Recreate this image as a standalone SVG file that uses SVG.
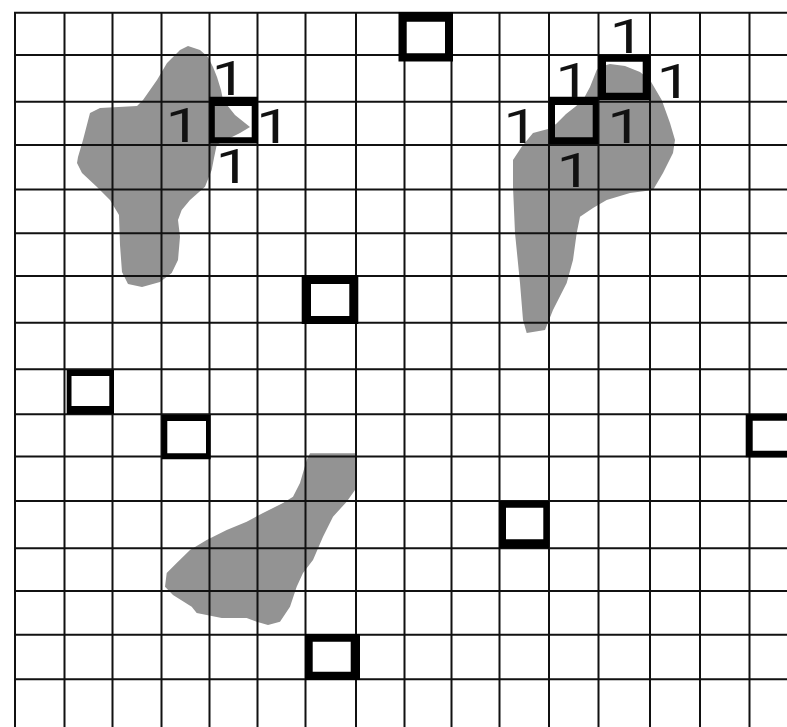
<svg xmlns="http://www.w3.org/2000/svg" width="787" height="727" viewBox="0 0 787 727">
<style>
.blob{fill:#939393;stroke:none}
.grid line{stroke:#111;stroke-width:2}
.box{fill:#000;fill-rule:evenodd}
.lbl{font-family:Roboto,"Liberation Sans",Arial,sans-serif;font-size:48px;fill:#111;text-anchor:middle}
</style>
<rect width="787" height="727" fill="#fff"/>
<g id="blobs">
<path id="blob-top-left" class="blob" d="M188,46 L200,50 L208,57 L213,67 L217,77 L221,90 L223,100 L235,115 L250,127 L240,133 L230,138 L220,143 L216.7,145 L214,158 L211.7,170 L205,186.7 L190,200 L181.7,210 L178,220 L180,236.7 L178,260 L171.7,273 L160,282 L142,287 L128,284 L122,272 L120,245 L119,215 L110,200 L97,187 L82,173 L77,163 L78,157 L83,140 L90,113 L100,108 L137,106 L143,100 L157,80 L167,63 L180,50 Z"/>
<path id="blob-top-right" class="blob" d="M600,66.7 L610,64 L625,66 L640,72 L650,80 L661.7,100 L670,123 L675,140 L673,153 L663,173 L653,190 L630,193 L606.7,200 L593,208 L580,216.7 L576.7,233 L573,260 L566.7,283 L553,310 L545,330 L526.7,333 L523,320 L520,283 L515,233 L513,187 L513,160 L521.7,146.7 L533,133 L548,129 L556,124 L566,114 L575,107 L583,100 L590,87 L596.7,70 Z"/>
<path id="blob-bottom" class="blob" d="M310,453.3 L355,453.3 L355,490 L346.7,501.7 L333,516.7 L323,536.7 L313,560 L303,573 L296.7,586.7 L290,606.7 L280,621.7 L268,625 L256.7,621.7 L246.7,618 L221.7,618 L196.7,613 L191.7,606.7 L173,595 L165,586.7 L166.7,573 L176.7,563 L190,550 L206.7,540 L226.7,530 L246.7,521.7 L263,513 L283,503 L293,496.7 L300,483 L306.7,460 Z"/>
</g>
<g id="grid" class="grid">
<line x1="15" y1="12.7" x2="15" y2="727"/>
<line x1="64.5" y1="12.7" x2="64.5" y2="727"/>
<line x1="112.5" y1="12.7" x2="112.5" y2="727"/>
<line x1="161.5" y1="12.7" x2="161.5" y2="727"/>
<line x1="209.5" y1="12.7" x2="209.5" y2="727"/>
<line x1="257.5" y1="12.7" x2="257.5" y2="727"/>
<line x1="305.5" y1="12.7" x2="305.5" y2="727"/>
<line x1="356" y1="12.7" x2="356" y2="727"/>
<line x1="404.5" y1="12.7" x2="404.5" y2="727"/>
<line x1="451.5" y1="12.7" x2="451.5" y2="727"/>
<line x1="499.5" y1="12.7" x2="499.5" y2="727"/>
<line x1="549" y1="12.7" x2="549" y2="727"/>
<line x1="598.5" y1="12.7" x2="598.5" y2="727"/>
<line x1="650" y1="12.7" x2="650" y2="727"/>
<line x1="700" y1="12.7" x2="700" y2="727"/>
<line x1="749.5" y1="12.7" x2="749.5" y2="727"/>
<line x1="14" y1="12.7" x2="787" y2="12.7"/>
<line x1="14" y1="55" x2="787" y2="55"/>
<line x1="14" y1="101.7" x2="787" y2="101.7"/>
<line x1="14" y1="145" x2="787" y2="145"/>
<line x1="14" y1="189.5" x2="787" y2="189.5"/>
<line x1="14" y1="233.3" x2="787" y2="233.3"/>
<line x1="14" y1="276" x2="787" y2="276"/>
<line x1="14" y1="322.7" x2="787" y2="322.7"/>
<line x1="14" y1="369.3" x2="787" y2="369.3"/>
<line x1="14" y1="414.2" x2="787" y2="414.2"/>
<line x1="14" y1="456.5" x2="787" y2="456.5"/>
<line x1="14" y1="501" x2="787" y2="501"/>
<line x1="14" y1="548.3" x2="787" y2="548.3"/>
<line x1="14" y1="591" x2="787" y2="591"/>
<line x1="14" y1="634.8" x2="787" y2="634.8"/>
<line x1="14" y1="679.3" x2="787" y2="679.3"/>
</g>
<g id="boxes">
<path id="box1" class="box" d="M398.5,12 H453 V61.5 H398.5 Z M406.7,21.7 V53.3 H445 V21.7 Z"/>
<path id="box2" class="box" d="M209.3,96.7 H258 V143.5 H209.3 Z M214.8,106 V137.3 H251.7 V106 Z"/>
<path id="box3" class="box" d="M598.3,55 H650.3 V100 H598.3 Z M606,61.7 V92.7 H642.7 V61.7 Z"/>
<path id="box4" class="box" d="M549.3,96.7 H598.3 V144 H549.3 Z M555,105 V137.3 H592.7 V105 Z"/>
<path id="box5" class="box" d="M301.7,275 H358.3 V324 H301.7 Z M311,284 V316 H349.3 V284 Z"/>
<path id="box6" class="box" d="M66.7,370 H114 V414 H66.7 Z M71.5,376 V406 H109.3 V376 Z"/>
<path id="box7" class="box" d="M161.7,415 H210.7 V459.3 H161.7 Z M167.3,421 V453.3 H206 V421 Z"/>
<path id="box8" class="box" d="M499.3,501 H549 V548.3 H499.3 Z M506,507.7 V539.3 H543.3 V507.7 Z"/>
<path id="box9" class="box" d="M745.7,414.3 H800 V457.3 H745.7 Z M752.7,420.7 V450.7 H800 V420.7 Z"/>
<path id="box10" class="box" d="M305,634 H360 V680 H305 Z M312.7,641.7 V671.7 H350.7 V641.7 Z"/>
</g>
<g id="labels">
<text class="lbl" transform="translate(229,95) scale(1.3,1)">1</text>
<text class="lbl" transform="translate(183,141.7) scale(1.3,1)">1</text>
<text class="lbl" transform="translate(273.5,143) scale(1.3,1)">1</text>
<text class="lbl" transform="translate(233,183) scale(1.3,1)">1</text>
<text class="lbl" transform="translate(627,53.3) scale(1.3,1)">1</text>
<text class="lbl" transform="translate(572.7,96.7) scale(1.3,1)">1</text>
<text class="lbl" transform="translate(674,98) scale(1.3,1)">1</text>
<text class="lbl" transform="translate(520.7,142.7) scale(1.3,1)">1</text>
<text class="lbl" transform="translate(624.7,142.7) scale(1.3,1)">1</text>
<text class="lbl" transform="translate(574,186.7) scale(1.3,1)">1</text>
</g>
</svg>
